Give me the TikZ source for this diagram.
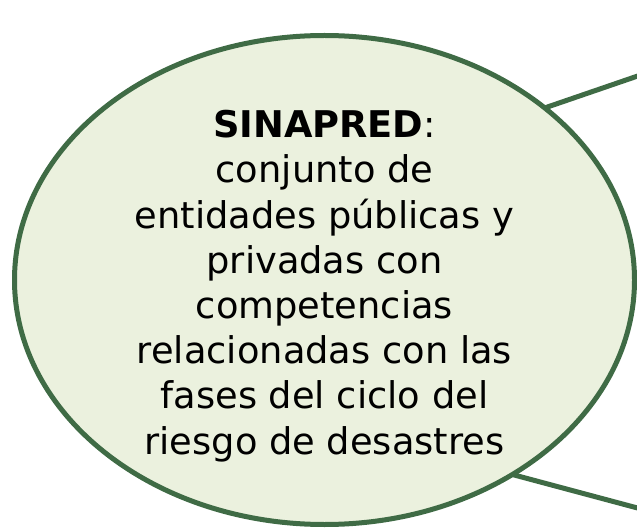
\documentclass[tikz,border=0pt]{standalone}
\usepackage{fontspec}
\setmainfont{DejaVu Sans}
\usetikzlibrary{shapes.geometric}
\definecolor{bordergreen}{HTML}{3F6B45}
\definecolor{fillgreen}{HTML}{EBF1DE}
\begin{document}
\begin{tikzpicture}[x=1pt,y=-1pt,
  bubble/.style={ellipse, draw=bordergreen, fill=fillgreen, line width=5pt,
    minimum width=620pt, minimum height=489pt, inner sep=0pt, outer sep=0pt},
  link/.style={draw=bordergreen, line width=5pt},
  bubbletext/.style={align=center, inner sep=0pt, text=black,
    font=\fontsize{36.8}{45.2}\selectfont}]
\useasboundingbox (0,0) rectangle (637,529);
\coordinate (t1) at (645,73.5);
\coordinate (b1) at (645,510);
\node[bubble] (e) at (324.5,280) {};
\draw[link] (e.38.4) -- (t1);
\draw[link] (e.-46.6) -- (b1);
\node[bubbletext] (txt) at (324.5,286) {\textbf{SINAPRED}:\\conjunto de\\entidades públicas y\\privadas con\\competencias\\relacionadas con las\\fases del ciclo del\\riesgo de desastres};
\end{tikzpicture}
\end{document}
